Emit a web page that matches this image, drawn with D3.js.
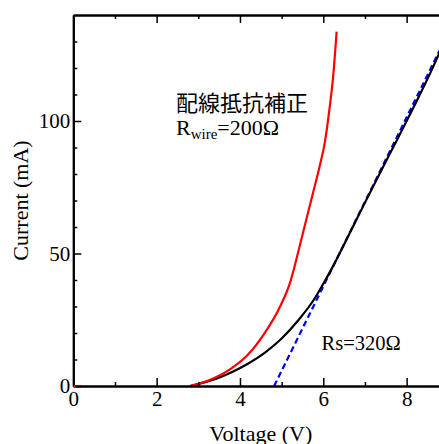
<!DOCTYPE html>
<html>
<head>
<meta charset="utf-8">
<script src="https://cdn.jsdelivr.net/npm/d3@7"></script>
<style>
  html, body { margin: 0; padding: 0; background: #fff; overflow: hidden; }
  svg { display: block; }
</style>
</head>
<body>
<svg id="chart" width="439" height="444"></svg>
<script>
// ---- data (Voltage V, Current mA) ----
const redVoltage   = [2.8, 3.0, 3.37, 3.76, 4.16, 4.56, 4.96, 5.2, 5.32, 5.44, 5.6, 5.76, 5.92, 6.04, 6.14, 6.24, 6.32];
const redCurrent   = [0, 0.7, 2.9, 6.3, 11.3, 19.2, 29.9, 38.9, 45.7, 53.2, 63.3, 73.3, 83.4, 92.2, 103.5, 117.4, 133.7];
const blackVoltage = [2.8, 3.0, 3.4, 3.8, 4.2, 4.6, 5.0, 5.4, 5.8, 6.0, 6.2, 6.6, 7.0, 7.4, 7.8, 8.2, 8.6, 8.8];
const blackCurrent = [0, 0.8, 2.6, 5.2, 8.5, 12.6, 17.9, 24.8, 33.2, 38.6, 44.2, 56.6, 69.2, 81.6, 93.8, 106.2, 119.2, 126.2];
const fitVoltage   = [4.82, 9.0];
const fitCurrent   = [0, 133.3];
const originPoint  = [[0, 0]];
const xMajorTicks  = [0, 2, 4, 6, 8];
const xMinorTicks  = [1, 3, 5, 7];
const yMajorTicks  = [0, 50, 100];
const yMinorTicks  = [10, 20, 30, 40, 60, 70, 80, 90, 110, 120, 130];
const xTitle = "Voltage (V)";
const yTitle = "Current (mA)";
const noteTitle = "配線抵抗補正";
const noteRs = "Rs=320Ω";

(function () {
const SERIF = '"Liberation Serif", serif';
const CJK = '"Noto Sans CJK JP"';
const pLeft = 73.3, pRight = 448.3, pTop = 15, pBottom = 386;
const svg = d3.select("#chart");
const x = d3.scaleLinear().domain([0, 9]).range([pLeft, pRight]);
const y = d3.scaleLinear().domain([0, 140]).range([pBottom, pTop]);

svg.append("defs").append("clipPath").attr("id", "plotclip")
  .append("rect").attr("x", pLeft).attr("y", pTop)
  .attr("width", pRight - pLeft).attr("height", pBottom - pTop);

const line = d3.line().x(d => x(d[0])).y(d => y(d[1])).curve(d3.curveMonotoneX);
const zip = (a, b) => a.map((v, i) => [v, b[i]]);

const plot = svg.append("g").attr("clip-path", "url(#plotclip)");
plot.append("path").datum(zip(fitVoltage, fitCurrent))
  .attr("d", d3.line().x(d => x(d[0])).y(d => y(d[1])))
  .attr("fill", "none").attr("stroke", "#0000ff").attr("stroke-width", 2.2)
  .attr("stroke-dasharray", "6,3.5");
plot.append("path").datum(zip(blackVoltage, blackCurrent))
  .attr("d", line).attr("fill", "none").attr("stroke", "#000").attr("stroke-width", 2.2);
plot.append("path").datum(zip(redVoltage, redCurrent))
  .attr("d", line).attr("fill", "none").attr("stroke", "#ff0000").attr("stroke-width", 2.2);

function styleAxis(g) {
  g.attr("font-family", null).attr("font-size", null);
  g.selectAll(".domain").attr("stroke", "#000").attr("stroke-width", 2);
  g.selectAll(".tick line").attr("stroke", "#000").attr("stroke-width", 1.5);
  g.selectAll("text").style("font-family", SERIF).style("font-size", "21px").attr("fill", "#000");
}
svg.append("g").attr("transform", `translate(0,${pBottom})`)
  .call(d3.axisBottom(x).tickValues(xMajorTicks).tickSize(-8).tickSizeOuter(0).tickPadding(5).tickFormat(d3.format("d")))
  .call(styleAxis);
svg.append("g").attr("transform", `translate(0,${pBottom})`)
  .call(d3.axisBottom(x).tickValues(xMinorTicks).tickSize(-4).tickSizeOuter(0).tickFormat(""))
  .call(styleAxis);
svg.append("g").attr("transform", `translate(0,${pTop})`)
  .call(d3.axisTop(x).tickValues(xMajorTicks).tickSize(-8).tickSizeOuter(0).tickFormat(""))
  .call(styleAxis);
svg.append("g").attr("transform", `translate(0,${pTop})`)
  .call(d3.axisTop(x).tickValues(xMinorTicks).tickSize(-4).tickSizeOuter(0).tickFormat(""))
  .call(styleAxis);
svg.append("g").attr("transform", `translate(${pLeft},0)`)
  .call(d3.axisLeft(y).tickValues(yMajorTicks).tickSize(-8).tickSizeOuter(0).tickPadding(3).tickFormat(d3.format("d")))
  .call(styleAxis);
svg.append("g").attr("transform", `translate(${pLeft},0)`)
  .call(d3.axisLeft(y).tickValues(yMinorTicks).tickSize(-4).tickSizeOuter(0).tickFormat(""))
  .call(styleAxis);
svg.append("g").attr("transform", `translate(${pRight},0)`)
  .call(d3.axisRight(y).tickValues(yMajorTicks).tickSize(-8).tickSizeOuter(0).tickFormat(""))
  .call(styleAxis);

svg.selectAll("circle.origin").data(originPoint).enter().append("circle")
  .attr("class", "origin").attr("cx", d => x(d[0]) + 1.5).attr("cy", d => y(d[1]) + 0.5)
  .attr("r", 1.3).attr("fill", "#ff0000");

svg.append("text").attr("x", (pLeft + pRight) / 2).attr("y", 441)
  .attr("text-anchor", "middle").style("font-family", SERIF).style("font-size", "22px").text(xTitle);
svg.append("text").attr("transform", `translate(28,${(pTop + pBottom) / 2}) rotate(-90)`)
  .attr("text-anchor", "middle").style("font-family", SERIF).style("font-size", "22px").text(yTitle);

svg.append("text").attr("x", 176).attr("y", 111)
  .style("font-family", CJK).style("font-size", "22px").text(noteTitle);
const rw = svg.append("text").attr("x", 176).attr("y", 135)
  .style("font-family", SERIF).style("font-size", "22px");
rw.append("tspan").text("R");
rw.append("tspan").style("font-size", "15px").attr("dy", 3.5).text("wire");
rw.append("tspan").attr("dy", -3.5).text("=200Ω");
svg.append("text").attr("x", 321.5).attr("y", 350)
  .style("font-family", SERIF).style("font-size", "20.5px").text(noteRs);
})();
</script>
</body>
</html>
